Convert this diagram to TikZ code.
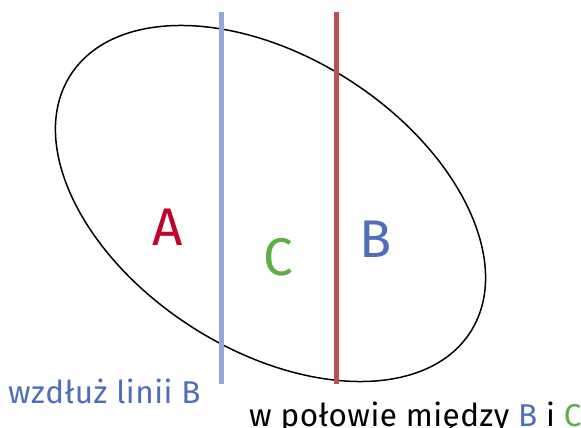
\documentclass[tikz,border=0pt]{standalone}
\usepackage{fontspec}
\setmainfont{Fira Sans}
\definecolor{cA}{HTML}{C0032C}
\definecolor{cB}{HTML}{4F6DB8}
\definecolor{cC}{HTML}{5DAE45}
\definecolor{lineB}{HTML}{92A8D1}
\definecolor{lineR}{HTML}{B8514F}
\begin{document}
\begin{tikzpicture}[x=1pt,y=-1pt,
  big/.style={font=\fontsize{53pt}{60pt}\selectfont, inner sep=0pt, anchor=base},
  small/.style={font=\fontsize{31.5pt}{36pt}\selectfont\addfontfeature{LetterSpace=1.5}, inner sep=0pt, anchor=base west},
  vline/.style={line width=4.8pt}]
\useasboundingbox (0,0) rectangle (581,428);
\draw[line width=1.5pt, rotate around={-32.75:(270.5,203.5)}] (270.5,203.5) ellipse [x radius=237.7pt, y radius=146.4pt];
\coordinate (b1) at (221.7,12.5);
\coordinate (b2) at (221.7,383.5);
\coordinate (r1) at (336.7,12.5);
\coordinate (r2) at (336.7,384);
\draw[vline, lineB] (b1) -- (b2);
\draw[vline, lineR] (r1) -- (r2);
\node[big, text=cA] (A) at (167.7,245.7) {A};
\node[big, text=cC] (C) at (278,275.8) {C};
\node[big, text=cB] (B) at (376,257.3) {B};
\node[small, text=cB] (l1) at (8,403.3) {wzdłuż linii B};
\node[small] (l2) at (249,426.5) {w połowie między \textcolor{cB}{B} i \textcolor{cC}{C}};
\end{tikzpicture}
\end{document}
